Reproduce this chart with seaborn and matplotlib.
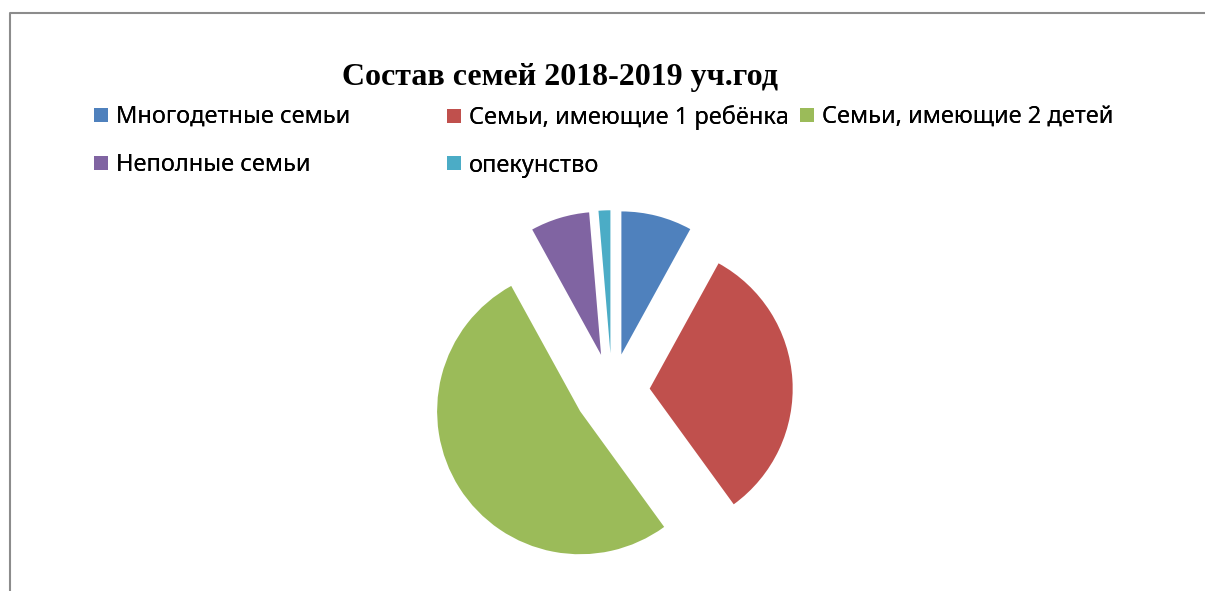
import matplotlib
matplotlib.use("Agg")
import matplotlib.pyplot as plt
import seaborn as sns
from matplotlib.lines import Line2D

# ---- data ----
categories = ["Многодетные семьи", "Семьи, имеющие 1 ребёнка", "Семьи, имеющие 2 детей",
              "Неполные семьи", "опекунство"]
values = [6, 24, 39, 5, 1]
colors = ["#4F81BD", "#C0504D", "#9BBB59", "#8064A2", "#4BACC6"]
title = "Состав семей 2018-2019 уч.год"

sns.set_theme(style="white")
plt.rcParams["font.family"] = ["Noto Sans", "DejaVu Sans"]

W, H = 1205, 591
fig = plt.figure(figsize=(W / 100, H / 100), dpi=100)
fig.patch.set_facecolor("white")

# ---- pie ----
R = 143.0          # pie radius in px
cx, cy = 612, 391  # pie centre in px (y from top)
half = 200
ax = fig.add_axes([(cx - half) / W, (H - cy - half) / H, 2 * half / W, 2 * half / H])
palette = sns.color_palette(colors)
wedges, _ = ax.pie(values, colors=palette, startangle=90, counterclock=False,
                   explode=[0.264] * len(values), radius=1.0,
                   wedgeprops=dict(linewidth=0))
for w in wedges:
    w.set_clip_on(False)
ax.set_xlim(-half / R, half / R)
ax.set_ylim(-half / R, half / R)
ax.set_aspect("equal")
ax.axis("off")

# ---- frame ----
fig.add_artist(Line2D([10 / W, 10 / W, 1.0], [0.0, 1 - 12.5 / H, 1 - 12.5 / H],
                      transform=fig.transFigure, color="#8c8c8c", lw=1.5))

# ---- title ----
fig.text(559.5 / W, 1 - 85 / H, title, ha="center", va="baseline",
         fontsize=23, fontweight="bold", family=["Liberation Serif", "DejaVu Serif"],
         color="black")

# ---- legend (3 columns, row-major like Excel) ----
fs_pt = 17
fs_px = fs_pt * 100 / 72
msize = 13.5 * 72 / 100
handles = [Line2D([], [], marker="s", ls="", markersize=msize,
                  markerfacecolor=c, markeredgewidth=0) for c in palette]
cols = [[0, 3], [1, 4], [2]]
col_x = [94.5, 447.5, 800.5]
top_px = 105.0
for idxs, x in zip(cols, col_x):
    leg = fig.legend([handles[i] for i in idxs], [categories[i] for i in idxs],
                     loc="upper left", bbox_to_anchor=(x / W, 1 - top_px / H),
                     bbox_transform=fig.transFigure, frameon=False,
                     borderpad=0, borderaxespad=0, fontsize=fs_pt,
                     handlelength=13.5 / fs_px, handletextpad=8.0 / fs_px,
                     labelspacing=(47.5 - 1.0 * fs_px) / fs_px, handleheight=0.7)
    for t in leg.get_texts():
        t.set_color("black")
    fig.add_artist(leg)

fig.savefig("out.png", dpi=100, facecolor="white")
